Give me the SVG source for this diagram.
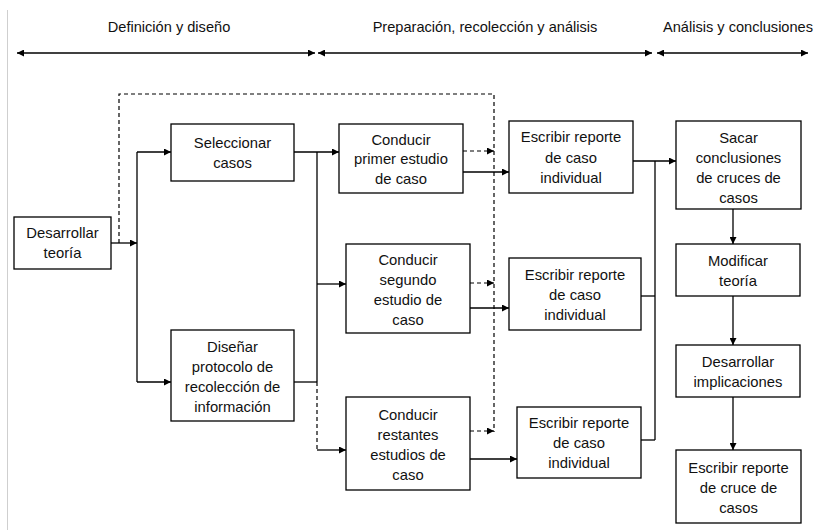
<svg xmlns="http://www.w3.org/2000/svg" width="815" height="530" viewBox="0 0 815 530">
<style>
.box{fill:#fff;stroke:#000;stroke-width:1.3}
.t{font-family:"Liberation Sans",Arial,sans-serif;font-size:14.8px;fill:#111;text-anchor:middle}
.h{font-family:"Liberation Sans",Arial,sans-serif;font-size:14.6px;fill:#111;text-anchor:middle}
.c{fill:none;stroke:#000;stroke-width:1.3}
.d{fill:none;stroke:#000;stroke-width:1.2;stroke-dasharray:4 3}
</style>
<defs>
<marker id="a" viewBox="0 0 10 10" refX="10" refY="5" markerWidth="7" markerHeight="7" markerUnits="userSpaceOnUse" orient="auto-start-reverse">
<path d="M0,0 L10,5 L0,10 z" fill="#000"/>
</marker>
</defs>
<line x1="7.5" y1="10" x2="7.5" y2="530" stroke="#cfcfcf" stroke-width="1"/>
<g id="headers">
<text class="h" x="169" y="32">Definición y diseño</text>
<text class="h" x="485" y="32">Preparación, recolección y análisis</text>
<text class="h" x="738" y="32">Análisis y conclusiones</text>
</g>
<g id="connectors">
<line class="c" x1="17" y1="53" x2="315" y2="53" marker-start="url(#a)" marker-end="url(#a)"/>
<line class="c" x1="318" y1="53" x2="652" y2="53" marker-start="url(#a)" marker-end="url(#a)"/>
<line class="c" x1="657" y1="53" x2="808" y2="53" marker-start="url(#a)" marker-end="url(#a)"/>
<path class="d" d="M119,243 V94 H494 V432"/>
<line class="c" x1="111" y1="243" x2="137" y2="243" marker-end="url(#a)"/>
<line class="c" x1="137" y1="152" x2="137" y2="382"/>
<line class="c" x1="137" y1="152" x2="171" y2="152" marker-end="url(#a)"/>
<line class="c" x1="137" y1="382" x2="171" y2="382" marker-end="url(#a)"/>
<line class="c" x1="294" y1="152" x2="339" y2="152" marker-end="url(#a)"/>
<line class="c" x1="317" y1="152" x2="317" y2="382"/>
<line class="c" x1="294" y1="382" x2="317" y2="382"/>
<line class="d" x1="317" y1="382" x2="317" y2="450"/>
<line class="c" x1="317" y1="450" x2="346" y2="450" marker-end="url(#a)"/>
<line class="c" x1="317" y1="284" x2="346" y2="284" marker-end="url(#a)"/>
<line class="c" x1="463" y1="172" x2="509" y2="172" marker-end="url(#a)"/>
<line class="d" x1="463" y1="151" x2="494" y2="151" marker-end="url(#a)"/>
<line class="c" x1="470" y1="308" x2="509" y2="308" marker-end="url(#a)"/>
<line class="d" x1="470" y1="283" x2="494" y2="283" marker-end="url(#a)"/>
<line class="c" x1="470" y1="459" x2="517" y2="459" marker-end="url(#a)"/>
<line class="d" x1="470" y1="431" x2="494" y2="431" marker-end="url(#a)"/>
<line class="c" x1="633" y1="161" x2="676" y2="161" marker-end="url(#a)"/>
<line class="c" x1="655" y1="161" x2="655" y2="440"/>
<line class="c" x1="641" y1="296" x2="655" y2="296"/>
<line class="c" x1="641" y1="440" x2="655" y2="440"/>
<line class="c" x1="733" y1="209" x2="733" y2="244" marker-end="url(#a)"/>
<line class="c" x1="733" y1="296" x2="733" y2="345" marker-end="url(#a)"/>
<line class="c" x1="733" y1="397" x2="733" y2="450" marker-end="url(#a)"/>
</g>
<g id="desarrollar-teoria">
<rect class="box" x="14" y="217" width="97" height="52"/>
<text class="t" x="62.5" y="238">Desarrollar</text>
<text class="t" x="62.5" y="258">teoría</text>
</g>
<g id="seleccionar-casos">
<rect class="box" x="171" y="124" width="123" height="57"/>
<text class="t" x="232.5" y="148">Seleccionar</text>
<text class="t" x="232.5" y="168">casos</text>
</g>
<g id="disenar-protocolo">
<rect class="box" x="171" y="330" width="123" height="91"/>
<text class="t" x="232.5" y="352">Diseñar</text>
<text class="t" x="232.5" y="372">protocolo de</text>
<text class="t" x="232.5" y="392">recolección de</text>
<text class="t" x="232.5" y="412">información</text>
</g>
<g id="conducir-primer">
<rect class="box" x="339" y="124" width="124" height="69"/>
<text class="t" x="401" y="145">Conducir</text>
<text class="t" x="401" y="164">primer estudio</text>
<text class="t" x="401" y="184">de caso</text>
</g>
<g id="conducir-segundo">
<rect class="box" x="346" y="244" width="124" height="89"/>
<text class="t" x="408" y="265">Conducir</text>
<text class="t" x="408" y="285">segundo</text>
<text class="t" x="408" y="305">estudio de</text>
<text class="t" x="408" y="325">caso</text>
</g>
<g id="conducir-restantes">
<rect class="box" x="346" y="397" width="124" height="93"/>
<text class="t" x="408" y="420">Conducir</text>
<text class="t" x="408" y="440">restantes</text>
<text class="t" x="408" y="460">estudios de</text>
<text class="t" x="408" y="480">caso</text>
</g>
<g id="escribir-1">
<rect class="box" x="509" y="121" width="124" height="72"/>
<text class="t" x="571" y="142">Escribir reporte</text>
<text class="t" x="571" y="163">de caso</text>
<text class="t" x="571" y="183">individual</text>
</g>
<g id="escribir-2">
<rect class="box" x="509" y="258" width="132" height="72"/>
<text class="t" x="575" y="280">Escribir reporte</text>
<text class="t" x="575" y="300">de caso</text>
<text class="t" x="575" y="320">individual</text>
</g>
<g id="escribir-3">
<rect class="box" x="517" y="407" width="124" height="71"/>
<text class="t" x="579" y="428">Escribir reporte</text>
<text class="t" x="579" y="448">de caso</text>
<text class="t" x="579" y="468">individual</text>
</g>
<g id="sacar-conclusiones">
<rect class="box" x="676" y="121" width="125" height="88"/>
<text class="t" x="738.5" y="143">Sacar</text>
<text class="t" x="738.5" y="163">conclusiones</text>
<text class="t" x="738.5" y="183">de cruces de</text>
<text class="t" x="738.5" y="203">casos</text>
</g>
<g id="modificar-teoria">
<rect class="box" x="676" y="244" width="124" height="52"/>
<text class="t" x="738" y="266">Modificar</text>
<text class="t" x="738" y="286">teoría</text>
</g>
<g id="desarrollar-implicaciones">
<rect class="box" x="676" y="345" width="124" height="52"/>
<text class="t" x="738" y="367">Desarrollar</text>
<text class="t" x="738" y="387">implicaciones</text>
</g>
<g id="escribir-cruce">
<rect class="box" x="676" y="450" width="125" height="73"/>
<text class="t" x="738.5" y="473">Escribir reporte</text>
<text class="t" x="738.5" y="493">de cruce de</text>
<text class="t" x="738.5" y="513">casos</text>
</g>
</svg>
